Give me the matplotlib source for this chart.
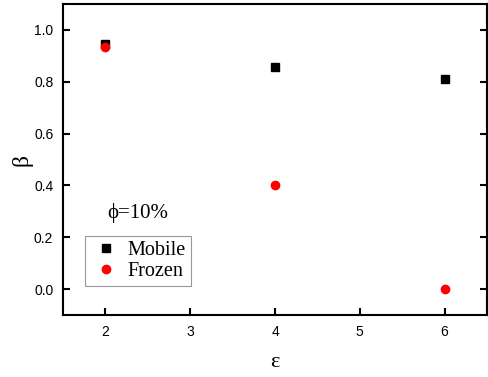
import numpy as np
import matplotlib
matplotlib.use('Agg')
import matplotlib.pyplot as plt

eps = [2, 4, 6]
beta_mobile = [0.945, 0.856, 0.811]
beta_frozen = [0.935, 0.400, 0.0]

fig = plt.figure(figsize=(4.88, 3.77), dpi=100)
ax = fig.add_axes([63/488, 1-315/377, 424/488, 311/377])

ax.plot(eps, beta_mobile, 's', color='black', ms=5.5, label='Mobile')
ax.plot(eps, beta_frozen, 'o', color='red', ms=6, label='Frozen')

ax.set_xlim(1.5, 6.5)
ax.set_ylim(-0.1, 1.1)
ax.set_xticks([2, 3, 4, 5, 6])
ax.set_yticks(np.arange(0, 1.01, 0.2))
ax.set_yticklabels(['%.1f' % v for v in np.arange(0, 1.01, 0.2)])
ax.tick_params(direction='in', length=5, width=1.5, top=False, right=True,
               labelsize=10, pad=7)
for lab in ax.get_xticklabels() + ax.get_yticklabels():
    lab.set_family('Liberation Sans')
for s in ax.spines.values():
    s.set_linewidth(1.5)

ax.set_xlabel('ε', family='Liberation Serif', fontsize=16, labelpad=10)
ax.set_ylabel('β', family='Liberation Serif', fontsize=17, labelpad=1)

ax.text(2.38, 0.295, 'ϕ=10%', family='Liberation Serif', fontsize=15,
        ha='center', va='center')

leg = ax.legend(loc='lower left', bbox_to_anchor=(22/424, 29/311),
                prop={'family': 'Liberation Serif', 'size': 14.5},
                fancybox=False, edgecolor='gray', handletextpad=0.25,
                borderpad=0.25, labelspacing=0.1, handlelength=1.6,
                borderaxespad=0)
leg.get_frame().set_linewidth(0.8)

fig.savefig('out.png', dpi=100)
